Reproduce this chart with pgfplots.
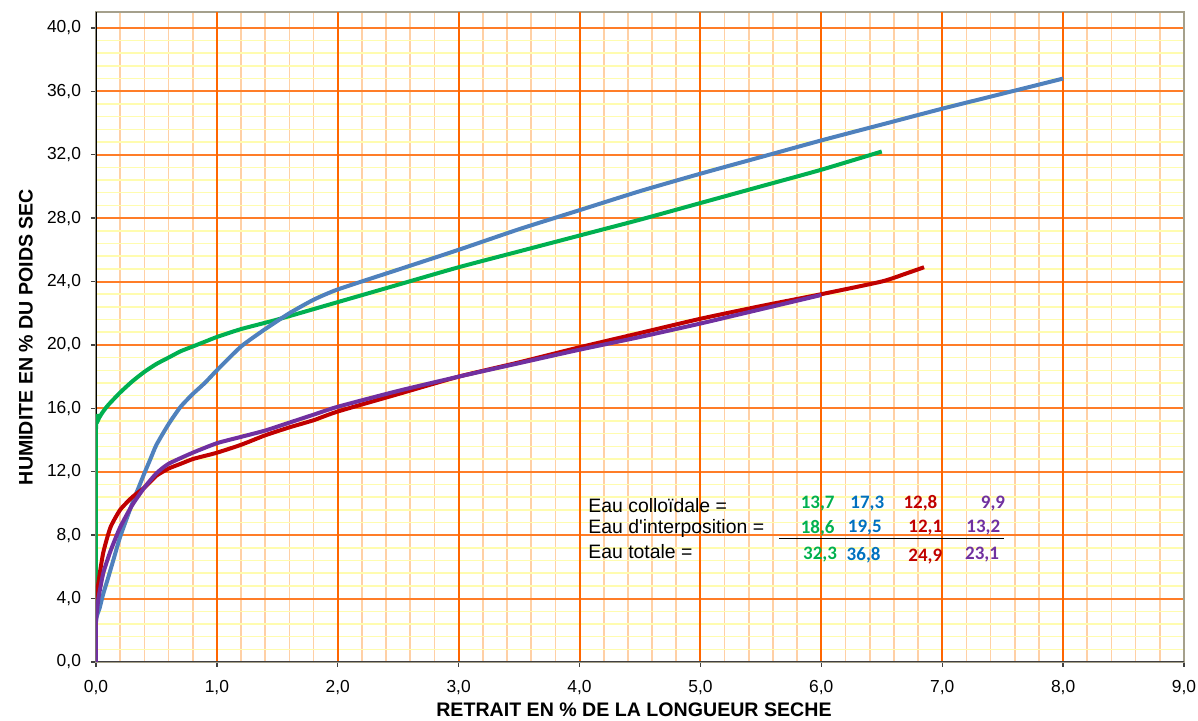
\documentclass[border=0pt]{standalone}
\usepackage{fontspec}
\setmainfont{Liberation Sans}
\newfontfamily\carlito{Carlito}
\usepackage{pgfplots}
\pgfplotsset{compat=1.18}
\definecolor{majxgrid}{RGB}{255,102,0}
\definecolor{majygrid}{RGB}{255,125,40}
\definecolor{minxgrid}{RGB}{255,208,165}
\definecolor{minygrid}{RGB}{255,252,175}
\definecolor{cgreen}{RGB}{0,176,80}
\definecolor{cblue}{RGB}{79,129,189}
\definecolor{cred}{RGB}{192,0,0}
\definecolor{cpurple}{RGB}{112,48,160}
\definecolor{tblue}{RGB}{0,112,192}
\definecolor{boxgray}{RGB}{165,160,140}

\pgfplotstableread{
x y
0 0
0 14.7
0.02 15.3
0.05 15.7
0.1 16.2
0.2 17.0
0.3 17.7
0.4 18.3
0.5 18.8
0.6 19.2
0.7 19.6
0.8 19.9
0.9 20.2
1.0 20.5
1.2 21.0
1.5 21.6
2.0 22.7
2.5 23.8
3.0 24.9
3.5 25.9
4.0 26.9
4.5 27.9
5.0 28.95
5.5 30.0
6.0 31.05
6.5 32.2
}\green

\pgfplotstableread{
x y
0 0
0 2.6
0.03 3.4
0.06 4.3
0.1 5.3
0.15 6.6
0.2 7.9
0.3 10.0
0.4 11.9
0.45 12.8
0.5 13.7
0.6 15.0
0.7 16.1
0.8 16.9
0.9 17.6
1.0 18.4
1.2 19.9
1.4 21.0
1.6 22.0
1.8 22.85
2.0 23.5
2.5 24.75
3.0 26.0
3.5 27.3
4.0 28.5
4.5 29.7
5.0 30.8
5.5 31.85
6.0 32.9
6.5 33.9
7.0 34.9
7.5 35.85
8.0 36.8
}\blue

\pgfplotstableread{
x y
0 0
0 3.5
0.02 5.0
0.06 6.9
0.12 8.5
0.2 9.6
0.3 10.4
0.4 11.0
0.5 11.75
0.6 12.2
0.7 12.5
0.8 12.8
0.9 13.0
1.0 13.2
1.2 13.7
1.4 14.3
1.6 14.8
1.8 15.25
2.0 15.8
2.5 16.9
3.0 18.0
3.5 18.9
4.0 19.85
4.5 20.75
5.0 21.65
5.5 22.45
6.0 23.2
6.5 24.0
6.7 24.5
6.85 24.9
}\red

\pgfplotstableread{
x y
0 0
0 2.5
0.02 4.0
0.06 5.6
0.12 7.0
0.2 8.5
0.3 9.9
0.4 11.0
0.5 11.9
0.6 12.5
0.8 13.2
1.0 13.8
1.2 14.2
1.4 14.6
1.6 15.1
1.8 15.6
2.0 16.1
2.5 17.1
3.0 18.0
3.5 18.85
4.0 19.7
4.5 20.5
5.0 21.35
5.5 22.25
6.0 23.15
}\purple

\begin{document}
\begin{tikzpicture}
\begin{axis}[
  scale only axis, width=544pt, height=325pt,
  xmin=0, xmax=9, ymin=0, ymax=41,
  xtick={0,1,2,3,4,5,6,7,8,9}, ytick={0,4,8,12,16,20,24,28,32,36,40},
  minor x tick num=4, minor y tick num=4,
  grid=both,
  major x grid style={majxgrid, line width=1pt},
  major y grid style={majygrid, line width=1pt},
  minor x grid style={minxgrid, line width=0.85pt},
  minor y grid style={minygrid, line width=0.75pt},
  axis line style={boxgray, line width=0.8pt},
  tick align=outside, major tick length=2.5pt, minor tick length=0pt,
  tick style={black!75, line width=0.7pt},
  xtick pos=bottom, ytick pos=left,
  ticklabel style={font=\fontsize{8.7}{9}\selectfont},
  xticklabel style={yshift=-3pt},
  yticklabel style={xshift=-1.5pt},
  /pgf/number format/.cd, fixed, fixed zerofill, precision=1, use comma, assume math mode=true,
  /pgfplots/.cd,
  xlabel={\textbf{RETRAIT EN \% DE LA LONGUEUR SECHE}},
  ylabel={\textbf{HUMIDITE EN \% DU POIDS SEC}},
  every axis x label/.style={at={(rel axis cs:0.5,0)}, anchor=center, yshift=-24pt, xshift=-3pt},
  every axis y label/.style={at={(rel axis cs:0,0.5)}, anchor=center, rotate=90, yshift=35pt},
  label style={font=\fontsize{9.8}{10}\selectfont},
  every axis plot/.append style={line width=2pt, smooth, tension=0.35},
  clip=true,
]
% major vertical grid lines redrawn over the minor horizontal ones
\pgfplotsinvokeforeach{1,2,3,4,5,6,7,8}{
  \draw[majxgrid, line width=1pt] (axis cs:#1,0) -- (axis cs:#1,41);
}
\draw[black, line width=0.8pt] (rel axis cs:0,0) -- (rel axis cs:0,1);
\draw[black!75, line width=0.8pt] (rel axis cs:0,0) -- (rel axis cs:1,0);

\addplot[cgreen] table {\green};
\addplot[cblue] table {\blue};
\addplot[cred] table {\red};
\addplot[cpurple] table {\purple};

\begin{scope}[every node/.style={font=\fontsize{9.7}{10}\selectfont, anchor=west, inner sep=0pt}]
\node at (axis cs:4.07,9.85) {Eau colloïdale =};
\node at (axis cs:4.07,8.4) {Eau d\textquotesingle interposition =};
\node at (axis cs:4.07,6.95) {Eau totale =};
\end{scope}
\begin{scope}[every node/.style={font=\carlito\bfseries\fontsize{9.5}{10}\selectfont, inner sep=0pt}]
\node[text=cgreen] at (axis cs:5.97,10.0) {13,7};
\node[text=cgreen] at (axis cs:5.97,8.45) {18,6};
\node[text=cgreen] at (axis cs:5.99,6.75) {32,3};
\node[text=tblue] at (axis cs:6.38,10.0) {17,3};
\node[text=tblue] at (axis cs:6.36,8.45) {19,5};
\node[text=tblue] at (axis cs:6.35,6.75) {36,8};
\node[text=cred] at (axis cs:6.82,10.0) {12,8};
\node[text=cred] at (axis cs:6.86,8.45) {12,1};
\node[text=cred] at (axis cs:6.86,6.65) {24,9};
\node[text=cpurple] at (axis cs:7.42,10.0) {9,9};
\node[text=cpurple] at (axis cs:7.34,8.45) {13,2};
\node[text=cpurple] at (axis cs:7.33,6.75) {23,1};
\end{scope}
\draw[black, line width=0.5pt] (axis cs:5.65,7.76) -- (axis cs:7.51,7.76);
\end{axis}
\pgfresetboundingbox
\path (current axis.south west) ++(-48pt,-29.5pt) rectangle ++(599pt,360.5pt);
\end{tikzpicture}
\end{document}
